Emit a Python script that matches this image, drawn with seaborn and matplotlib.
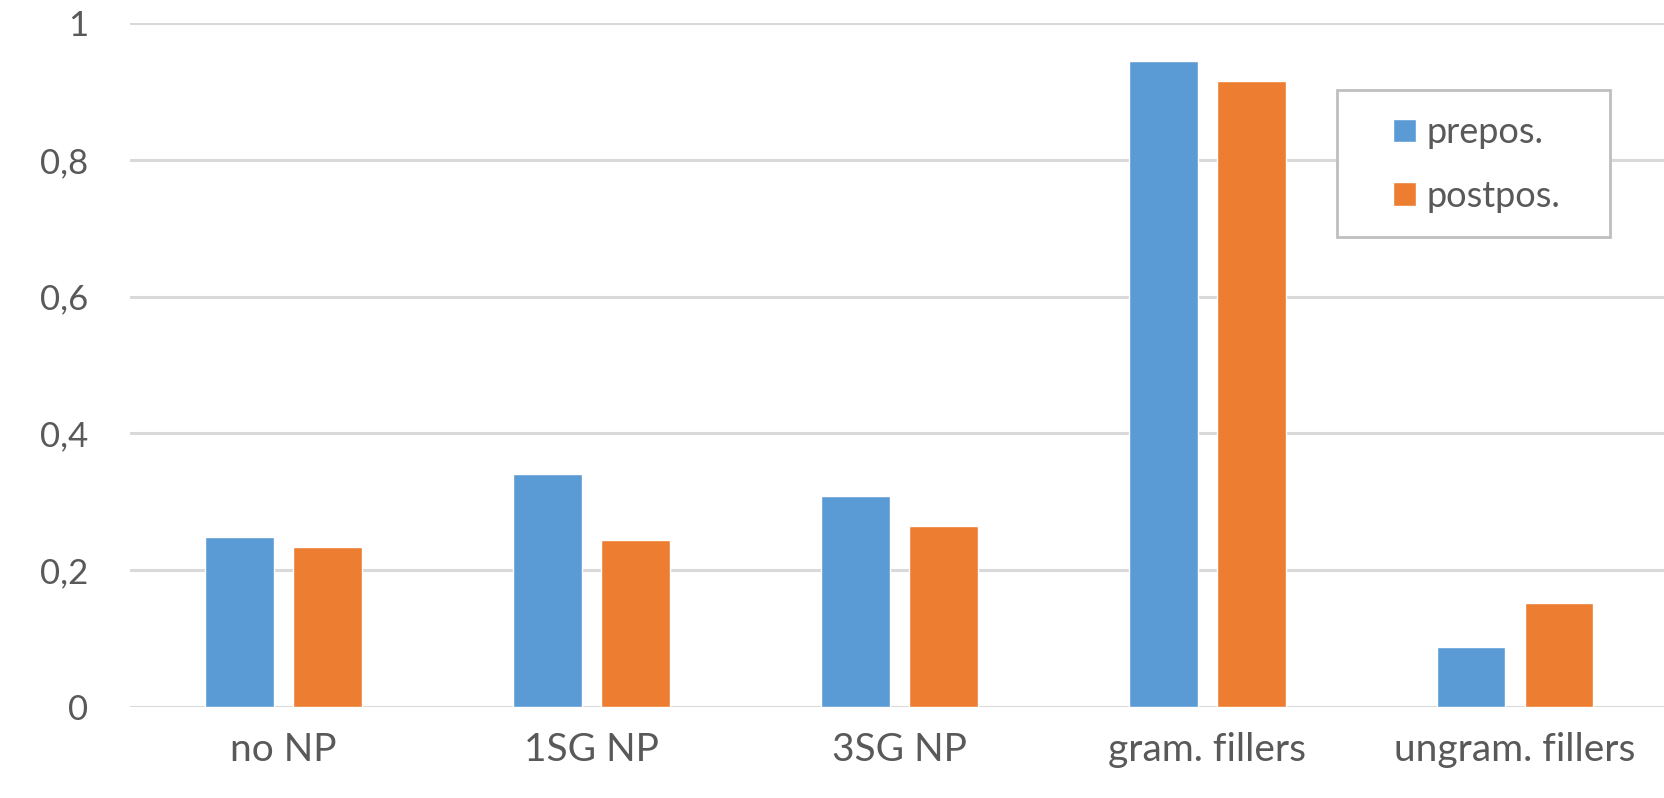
import numpy as np
import pandas as pd
import matplotlib.pyplot as plt
from matplotlib.patches import Rectangle
import seaborn as sns

categories = ["no NP", "1SG NP", "3SG NP", "gram. fillers", "ungram. fillers"]
prepos = [0.248, 0.340, 0.309, 0.944, 0.087]
postpos = [0.234, 0.244, 0.264, 0.916, 0.152]
series = ["prepos.", "postpos."]
yticks = [0, 0.2, 0.4, 0.6, 0.8, 1.0]
ytick_labels = ["0", "0,2", "0,4", "0,6", "0,8", "1"]

df = pd.DataFrame({
    "category": categories * 2,
    "value": prepos + postpos,
    "series": [series[0]] * len(categories) + [series[1]] * len(categories),
})

sns.set_style("white")
plt.rcParams["font.family"] = ["Lato", "DejaVu Sans"]
text_color = "#595959"
grid_color = "#d9d9d9"

fig = plt.figure(figsize=(16.64, 7.98), dpi=100)
ax = fig.add_axes([0.078, 0.1143, 0.925, 0.8567])

sns.barplot(data=df, x="category", y="value", hue="series", order=categories,
            hue_order=series, palette=["#5B9BD5", "#ED7D31"],
            width=0.572, gap=0.22, ax=ax, saturation=1)

ax.set_ylim(0, 1)
ax.set_xlim(-0.5, 4.5)
ax.set_yticks(yticks)
ax.set_yticklabels(ytick_labels)
ax.set_axisbelow(True)
ax.yaxis.grid(True, color=grid_color, lw=2.2)
for s in ax.spines.values():
    s.set_visible(False)
ax.tick_params(axis="y", length=0, pad=30, labelsize=25, labelcolor=text_color)
ax.tick_params(axis="x", length=0, pad=18, labelsize=28, labelcolor=text_color)
ax.set_xlabel("")
ax.set_ylabel("")

# legend: box drawn separately so the inner padding can be wider on the left
handles, labels = ax.get_legend_handles_labels()
ax.get_legend().remove()
fig.patches.append(Rectangle((1337 / 1664, 1 - 237 / 798), 273 / 1664, 147 / 798,
                             transform=fig.transFigure, facecolor="white",
                             edgecolor="#bfbfbf", lw=2, zorder=2))
fig.legend(handles, labels, loc="center left",
           bbox_to_anchor=(1393 / 1664, 1 - 164.5 / 798), fontsize=26,
           frameon=False, handlelength=0.64, handleheight=0.64,
           handletextpad=0.3, labelspacing=0.85, borderpad=0, borderaxespad=0,
           labelcolor=text_color)

fig.savefig("out.png", dpi=100)
